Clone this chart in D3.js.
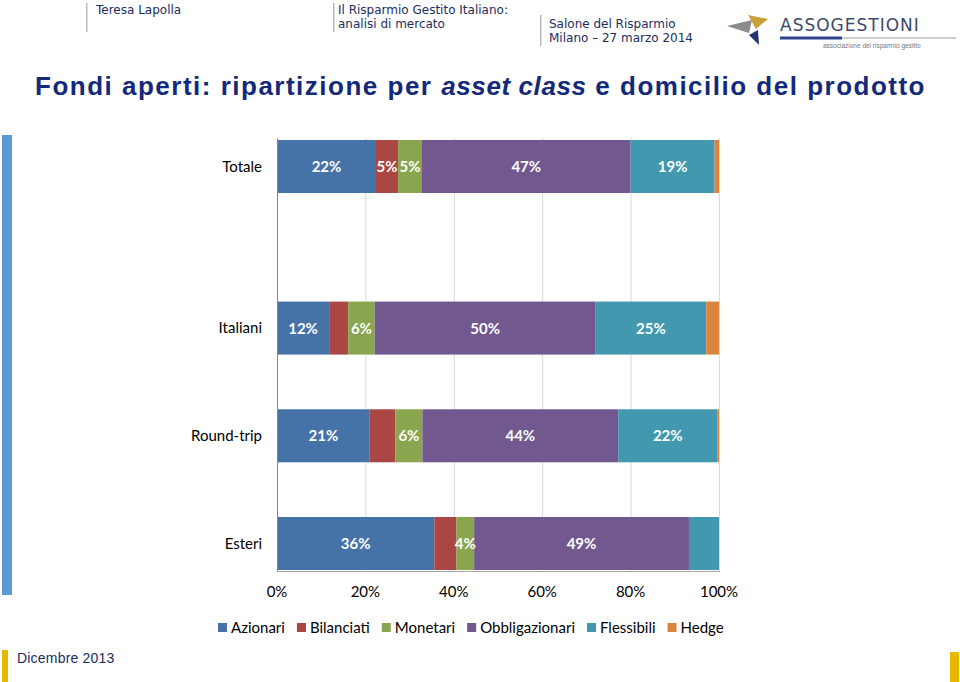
<!DOCTYPE html>
<html><head><meta charset="utf-8">
<script src="https://cdn.jsdelivr.net/npm/d3@7"></script>
<style>
html,body{margin:0;padding:0;background:#fff;}
svg{display:block;}
</style></head>
<body>
<svg id="c" width="960" height="682"></svg>
<script>
// ---- data ----
const categories = ["Totale", "Italiani", "Round-trip", "Esteri"];
const series = ["Azionari", "Bilanciati", "Monetari", "Obbligazionari", "Flessibili", "Hedge"];
const azionari       = [22.4, 11.8, 21.0, 35.6];
const bilanciati     = [5.0,  4.3,  5.8,  5.0];
const monetari       = [5.4,  6.0,  6.1,  4.0];
const obbligazionari = [47.2, 50.0, 44.3, 48.6];
const flessibili     = [19.0, 25.0, 22.4, 6.8];
const hedge          = [1.0,  2.9,  0.4,  0.0];
// which segments carry a printed label (as in the source)
const labelShown = [
  [true, true, true, true, true, false],
  [true, false, true, true, true, false],
  [true, false, true, true, true, false],
  [true, false, true, true, false, false]
];
const xTicks = [0, 20, 40, 60, 80, 100];
const colors = ["#4572A7", "#AA4643", "#89A54E", "#71588F", "#4198AF", "#DB843D"];

const seriesValues = [azionari, bilanciati, monetari, obbligazionari, flessibili, hedge];
const rows = categories.map((c, i) => {
  const r = {cat: c, idx: i};
  series.forEach((s, j) => r[s] = seriesValues[j][i]);
  return r;
});

const svg = d3.select("#c");

// ---- header ----
const navy = "#1c2d5e";
const hdr = svg.append("g").attr("font-family", "DejaVu Sans, sans-serif").attr("fill", navy).attr("font-size", 12);
hdr.append("rect").attr("x", 86).attr("y", 3).attr("width", 1.5).attr("height", 29).attr("fill", "#b8b8b8");
hdr.append("text").attr("x", 96).attr("y", 14).text("Teresa Lapolla");
hdr.append("rect").attr("x", 333).attr("y", 3).attr("width", 1.5).attr("height", 29).attr("fill", "#b8b8b8");
hdr.append("text").attr("x", 338).attr("y", 14).text("Il Risparmio Gestito Italiano:");
hdr.append("text").attr("x", 338).attr("y", 28).text("analisi di mercato");
hdr.append("rect").attr("x", 540).attr("y", 15).attr("width", 1.5).attr("height", 31).attr("fill", "#b8b8b8");
hdr.append("text").attr("x", 549).attr("y", 28).text("Salone del Risparmio");
hdr.append("text").attr("x", 549).attr("y", 42).text("Milano \u2013 27 marzo 2014");

// logo
const lg = svg.append("g");
lg.append("path").attr("d", "M727,26 L752,20 L749,33 Z").attr("fill", "#8a8a8a");
lg.append("path").attr("d", "M748,15 L768,19 L756,29 Z").attr("fill", "#c9a13b");
lg.append("path").attr("d", "M749,35 L758,30 L759,45 Z").attr("fill", "#24346f");
lg.append("text").attr("x", 780).attr("y", 31).attr("font-family", "DejaVu Sans, sans-serif")
  .attr("font-size", 17).attr("letter-spacing", 1).attr("fill", "#3b4a6a").text("ASSOGESTIONI");
lg.append("rect").attr("x", 780).attr("y", 36.5).attr("width", 62).attr("height", 3).attr("fill", "#2e4290");
lg.append("rect").attr("x", 842).attr("y", 37.5).attr("width", 114).attr("height", 1).attr("fill", "#a0a0a0");
lg.append("text").attr("x", 823).attr("y", 48).attr("font-family", "Liberation Sans, sans-serif")
  .attr("font-size", 6.5).attr("fill", "#777").text("associazione del risparmio gestito");

// ---- title ----
const title = svg.append("text").attr("x", 35).attr("y", 95)
  .attr("font-family", "Liberation Sans, Arial, sans-serif").attr("font-weight", "bold")
  .attr("font-size", 26).attr("fill", "#13297a").attr("letter-spacing", 1.5);
title.append("tspan").text("Fondi aperti: ripartizione per ");
title.append("tspan").attr("font-style", "italic").attr("letter-spacing", 0.6).text("asset class");
title.append("tspan").text(" e domicilio del prodotto");

// ---- side decorations ----
svg.append("rect").attr("x", 2).attr("y", 135).attr("width", 10).attr("height", 460).attr("fill", "#5b9bd5");
svg.append("rect").attr("x", 2).attr("y", 650).attr("width", 6).attr("height", 32).attr("fill", "#e6b800");
svg.append("rect").attr("x", 950).attr("y", 652).attr("width", 9).attr("height", 30).attr("fill", "#e6b800");
svg.append("text").attr("x", 17).attr("y", 663).attr("font-family", "Liberation Sans, Arial, sans-serif")
  .attr("font-size", 14).attr("letter-spacing", 0.2).attr("fill", "#1c2d5e").text("Dicembre 2013");

// ---- chart ----
const x = d3.scaleLinear().domain([0, 100]).range([277, 719]);
const plotTop = 138, plotBottom = 571;
const barH = 53;
// slot positions: extra half gap after the total row
const slot = i => i === 0 ? 0 : i + 0.5;
const y = d3.scaleLinear().domain([0, 3.5]).range([140, 517]);

const chart = svg.append("g");
// gridlines
chart.append("g").selectAll("line").data(xTicks.slice(1)).join("line")
  .attr("x1", d => x(d) + 0.5).attr("x2", d => x(d) + 0.5)
  .attr("y1", plotTop).attr("y2", plotBottom)
  .attr("stroke", "#d9d9d9").attr("stroke-width", 1);

const stack = d3.stack().keys(series)
  .value((d, k) => d[k])
  .offset(d3.stackOffsetExpand);
const stacked = stack(rows);

const layers = chart.append("g").selectAll("g").data(stacked).join("g")
  .attr("fill", (d, i) => colors[i]);
layers.selectAll("rect").data(d => d).join("rect")
  .attr("x", d => x(d[0] * 100))
  .attr("width", d => Math.max(0, x(d[1] * 100) - x(d[0] * 100)))
  .attr("y", d => y(slot(d.data.idx)))
  .attr("height", barH);

// labels
const lbl = chart.append("g").attr("font-family", "Lato, Open Sans, sans-serif").attr("font-weight", "bold")
  .attr("font-size", 15).attr("fill", "#fff").attr("text-anchor", "middle");
stacked.forEach((layer, j) => {
  layer.forEach(d => {
    const i = d.data.idx;
    if (!labelShown[i][j]) return;
    const v = d.data[series[j]];
    lbl.append("text")
      .attr("x", (x(d[0] * 100) + x(d[1] * 100)) / 2)
      .attr("y", y(slot(i)) + barH / 2 + 5.5)
      .text(Math.round(v) + "%");
  });
});

// axes lines
chart.append("line").attr("x1", 277.5).attr("x2", 277.5).attr("y1", plotTop).attr("y2", plotBottom + 1)
  .attr("stroke", "#868686");
chart.append("line").attr("x1", 277).attr("x2", 720).attr("y1", plotBottom + 0.5).attr("y2", plotBottom + 0.5)
  .attr("stroke", "#a6a6a6");

// category labels
chart.append("g").selectAll("text").data(categories).join("text")
  .attr("x", 262).attr("y", (d, i) => y(slot(i)) + barH / 2 + 5)
  .attr("text-anchor", "end").attr("font-family", "Lato, Open Sans, sans-serif")
  .attr("font-size", 15).attr("fill", "#000").text(d => d);

// x tick labels
chart.append("g").selectAll("text").data(xTicks).join("text")
  .attr("x", d => x(d)).attr("y", 597).attr("text-anchor", "middle")
  .attr("font-family", "Lato, Open Sans, sans-serif").attr("font-size", 15).attr("fill", "#000")
  .text(d => d + "%");

// legend
const leg = chart.append("g").attr("font-family", "Lato, Open Sans, sans-serif").attr("font-size", 15);
let lx = 218;
series.forEach((s, j) => {
  leg.append("rect").attr("x", lx).attr("y", 623).attr("width", 9).attr("height", 9).attr("fill", colors[j]);
  const t = leg.append("text").attr("x", lx + 13).attr("y", 633).attr("fill", "#000").text(s);
  lx += 13 + t.node().getComputedTextLength() + 12;
});
</script>
</body></html>
